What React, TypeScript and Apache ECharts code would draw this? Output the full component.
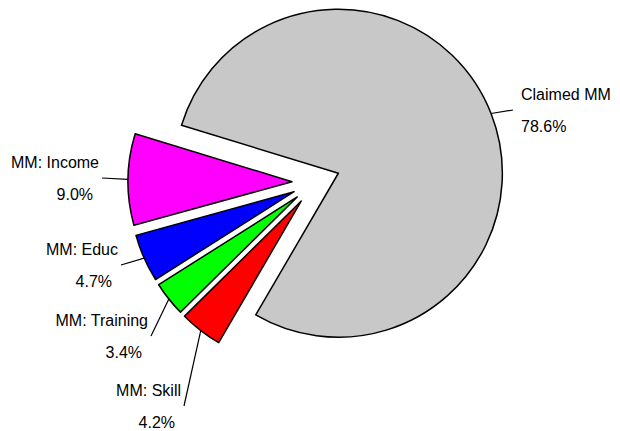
import React, { useEffect, useRef } from "react";
import * as echarts from "echarts";

// Pie data: share of each category (percent)
const categories = ["Claimed MM", "MM: Skill", "MM: Training", "MM: Educ", "MM: Income"];
const shares = [78.6, 4.2, 3.4, 4.7, 9.0];
const colors = ["#c8c8c8", "#ff0000", "#00ff00", "#0000ff", "#ff00ff"];

// Layout
const CX = 316;
const CY = 182;
const RADIUS = 164;
const START_ANGLE = 163;
const EXPLODE = 24;
// end point of each leader line, and which side of it the text sits on
const labelAnchors: { x: number; y: number; side: "left" | "right" }[] = [
  { x: 513, y: 110, side: "right" },
  { x: 184, y: 406, side: "left" },
  { x: 151, y: 336, side: "left" },
  { x: 121, y: 265, side: "left" },
  { x: 102, y: 178, side: "left" },
];

const FONT = "'Liberation Sans', Arial, Helvetica, sans-serif";

function buildOption() {
  const total = shares.reduce((a, b) => a + b, 0);
  let cum = 0;
  const series = categories.map((_, i) => {
    const mid = START_ANGLE - ((cum + shares[i] / 2) / total) * 360;
    cum += shares[i];
    const rad = (mid * Math.PI) / 180;
    const cx = CX + EXPLODE * Math.cos(rad);
    const cy = CY - EXPLODE * Math.sin(rad);
    const anchor = labelAnchors[i];
    const textAlign = anchor.side === "left" ? "right" : "left";
    return {
      type: "pie",
      center: [cx, cy],
      radius: RADIUS,
      startAngle: START_ANGLE,
      clockwise: true,
      avoidLabelOverlap: false,
      silent: true,
      emphasis: { disabled: true },
      data: categories.map((name, j) => ({
        name,
        value: shares[j],
        itemStyle:
          j === i
            ? { color: colors[j], borderColor: "#000", borderWidth: 1.5 }
            : { color: "rgba(0,0,0,0)", borderWidth: 0 },
        label: { show: j === i },
        labelLine: { show: j === i },
      })),
      label: {
        show: true,
        position: "outside",
        color: "#000",
        fontFamily: FONT,
        fontSize: 16,
        lineHeight: 32,
        align: textAlign,
        formatter: (p: any) => `{n|${p.name}}\n{p|${Number(p.value).toFixed(1)}%}`,
        rich: {
          n: { fontFamily: FONT, fontSize: 16, lineHeight: 32, color: "#000" },
          p: {
            fontFamily: FONT,
            fontSize: 16,
            lineHeight: 32,
            color: "#000",
            padding: anchor.side === "left" ? [0, 6, 0, 0] : [0, 0, 0, 0],
          },
        },
      },
      labelLine: {
        show: true,
        length: 10,
        length2: 0,
        lineStyle: { color: "#000", width: 1.2 },
      },
      labelLayout: (params: any) => {
        if (params.dataIndex !== i) return {};
        const start =
          params.labelLinePoints && params.labelLinePoints[0]
            ? params.labelLinePoints[0]
            : [anchor.x, anchor.y];
        return {
          x: anchor.side === "left" ? anchor.x - 3 : anchor.x + 8,
          y: anchor.y,
          align: textAlign,
          verticalAlign: "middle",
          labelLinePoints: [start, [anchor.x, anchor.y]],
        };
      },
    };
  });
  return {
    animation: false,
    backgroundColor: "#ffffff",
    series,
  };
}

export default function App() {
  const ref = useRef<HTMLDivElement>(null);
  useEffect(() => {
    if (!ref.current) return;
    const chart = echarts.init(ref.current, undefined, { renderer: "svg" });
    chart.setOption(buildOption() as any);
    return () => chart.dispose();
  }, []);
  return (
    <div
      ref={ref}
      style={{ position: "absolute", left: 0, top: 0, width: 620, height: 431 }}
    />
  );
}
